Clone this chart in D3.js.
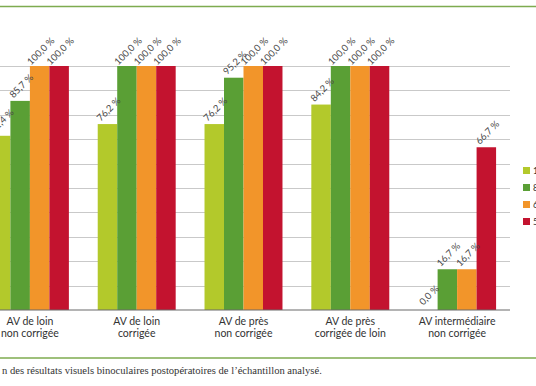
<!DOCTYPE html>
<html>
<head>
<meta charset="utf-8">
<script src="https://cdn.jsdelivr.net/npm/d3@7"></script>
<style>
  body { margin: 0; background: #fff; overflow: hidden; }
  svg { display: block; }
</style>
</head>
<body>
<svg id="chart" width="536" height="386"></svg>
<script>
const categories = [
    ['AV de loin', 'non corrigée'],
    ['AV de loin', 'corrigée'],
    ['AV de près', 'non corrigée'],
    ['AV de près', 'corrigée de loin'],
    ['AV intermédiaire', 'non corrigée']
]
const seriesNames = ['10/10', '8/10', '6/10', '5/10']
const s1Values = [71.4, 76.2, 76.2, 84.2, 0.0]
const s2Values = [85.7, 100.0, 95.2, 100.0, 16.7]
const s3Values = [100.0, 100.0, 100.0, 100.0, 16.7]
const s4Values = [100.0, 100.0, 100.0, 100.0, 66.7]
const yTicks = [0, 10, 20, 30, 40, 50, 60, 70, 80, 90, 100]
const caption = 'n des résultats visuels binoculaires postopératoires de l\u2019échantillon analysé.'

const allSeries = [s1Values, s2Values, s3Values, s4Values]
const colors = ['#b3c92b', '#5a9f35', '#f2952a', '#c3132f']

const svg = d3.select('#chart')

const x0 = d3.scaleBand()
    .domain(d3.range(categories.length))
    .range([-23.5, 510.5])
    .paddingInner(0.27)
    .paddingOuter(0.135)

const x1 = d3.scaleBand()
    .domain(d3.range(seriesNames.length))
    .range([0, x0.bandwidth()])

const y = d3.scaleLinear().domain([0, 100]).range([310, 66])

// green rules top and bottom
svg.append('line').attr('x1', 0).attr('x2', 536).attr('y1', 6.5).attr('y2', 6.5)
    .attr('stroke', '#7eab4f').attr('stroke-width', 1.5)
svg.append('line').attr('x1', 0).attr('x2', 536).attr('y1', 358).attr('y2', 358)
    .attr('stroke', '#7eab4f').attr('stroke-width', 1.5)

// gridlines
svg.append('g')
    .selectAll('line')
    .data(yTicks.filter(d => d > 0))
    .enter()
    .append('line')
    .attr('x1', 0)
    .attr('x2', 510)
    .attr('y1', d => Math.round(y(d)) + 0.5)
    .attr('y2', d => Math.round(y(d)) + 0.5)
    .attr('stroke', '#c9c9c9')
    .attr('stroke-width', 1)

// bars
const rows = []
categories.forEach((c, i) => {
    allSeries.forEach((s, j) => {
        rows.push({ cat: i, ser: j, value: s[i] })
    })
})

const bars = svg.append('g')
bars.selectAll('rect')
    .data(rows)
    .enter()
    .append('rect')
    .attr('x', d => x0(d.cat) + x1(d.ser))
    .attr('width', x1.bandwidth())
    .attr('y', d => y(d.value))
    .attr('height', d => y(0) - y(d.value))
    .attr('fill', d => colors[d.ser])

// baseline
svg.append('line').attr('x1', 0).attr('x2', 510).attr('y1', 310).attr('y2', 310)
    .attr('stroke', '#6b6b6b').attr('stroke-width', 1.2)

// value labels, rotated
bars.selectAll('text')
    .data(rows)
    .enter()
    .append('text')
    .attr('transform', d => {
        const cx = x0(d.cat) + x1(d.ser) + x1.bandwidth() / 2
        return 'translate(' + (cx + 1) + ',' + (y(d.value) - 15) + ') rotate(-45)'
    })
    .attr('text-anchor', 'middle')
    .attr('dominant-baseline', 'central')
    .attr('font-family', 'Lato, sans-serif')
    .attr('font-size', 9.5)
    .attr('fill', '#4a4a4a')
    .text(d => d.value.toFixed(1).replace('.', ',') + ' %')

// category labels
const catLabels = svg.append('g')
    .selectAll('text')
    .data(categories)
    .enter()
    .append('text')
    .attr('x', (d, i) => x0(i) + x0.bandwidth() / 2)
    .attr('y', 325)
    .attr('text-anchor', 'middle')
    .attr('font-family', 'Lato, sans-serif')
    .attr('font-size', 10.5)
    .attr('fill', '#333')
catLabels.append('tspan').text(d => d[0])
catLabels.append('tspan')
    .attr('x', (d, i) => x0(i) + x0.bandwidth() / 2)
    .attr('dy', 12)
    .text(d => d[1])

// legend (cut by right edge)
const legend = svg.append('g')
legend.selectAll('rect')
    .data(seriesNames)
    .enter()
    .append('rect')
    .attr('x', 523)
    .attr('y', (d, i) => 167 + i * 17)
    .attr('width', 7)
    .attr('height', 7)
    .attr('fill', (d, i) => colors[i])
legend.selectAll('text')
    .data(seriesNames)
    .enter()
    .append('text')
    .attr('x', 533)
    .attr('y', (d, i) => 174 + i * 17)
    .attr('font-family', 'Lato, sans-serif')
    .attr('font-size', 9)
    .attr('fill', '#333')
    .text(d => d)

// caption
svg.append('text')
    .attr('x', 2)
    .attr('y', 374)
    .attr('font-family', '"Liberation Serif", serif')
    .attr('font-size', 10.6)
    .attr('fill', '#333')
    .text(caption)
</script>
</body>
</html>
